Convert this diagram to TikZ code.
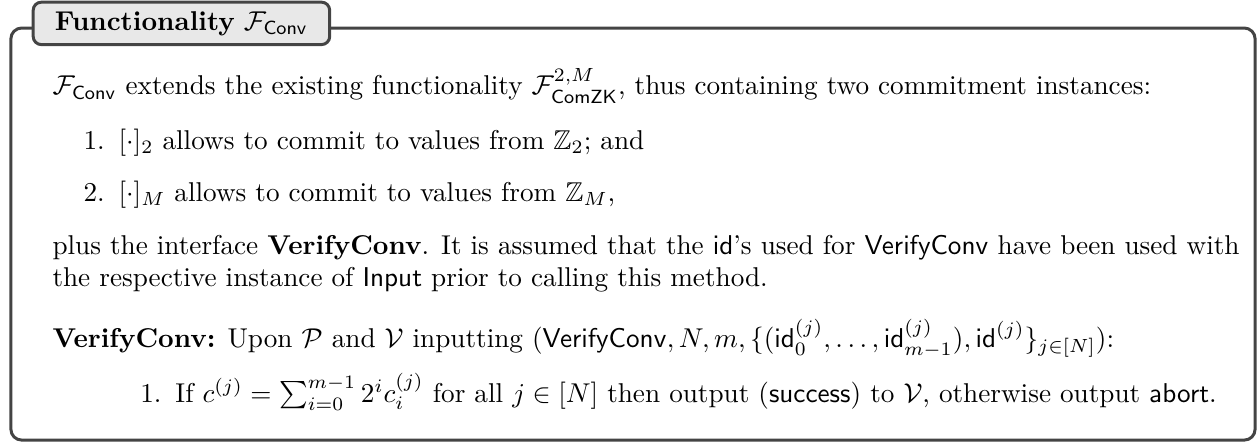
\documentclass[tikz,border=0pt]{standalone}
\usepackage{amsmath,amssymb}
\definecolor{framec}{HTML}{444444}
\definecolor{titlefill}{HTML}{E8E8E8}
\begin{document}
\begin{tikzpicture}[x=1pt,y=1pt,
  frame/.style={draw=framec,line width=1.1pt,rounded corners=4pt},
  titlebox/.style={draw=framec,fill=titlefill,line width=1.1pt,rounded corners=3pt,minimum width=109pt,minimum height=15.6pt,inner sep=0pt},
  txt/.style={anchor=base west,inner sep=0pt}]
\useasboundingbox (0,0) rectangle (463.2,-162.5);
\draw[frame] (4.0,-10.3) rectangle (461.4,-161.8);
\node[titlebox] (title) at (66.7,-8.6) {\textbf{Functionality} $\mathcal{F}_{\mathsf{Conv}}$};
\node[txt] (l1) at (19.1,-34.9) {$\mathcal{F}_{\mathsf{Conv}}$ extends the existing functionality $\mathcal{F}^{2,M}_{\mathsf{ComZK}}$, thus containing two commitment instances:};
\node[txt] (n1) at (30.5,-54.8) {1.};
\node[txt] (i1) at (43.4,-54.8) {$[\cdot]_2$ allows to commit to values from $\mathbb{Z}_2$; and};
\node[txt] (n2) at (30.5,-73.9) {2.};
\node[txt] (i2) at (43.4,-73.9) {$[\cdot]_M$ allows to commit to values from $\mathbb{Z}_M$,};
\node[txt] (l2) at (19.1,-93.4) {plus the interface \textbf{VerifyConv}. It is assumed that the $\mathsf{id}$'s used for $\mathsf{VerifyConv}$ have been used with};
\node[txt] (l3) at (19.1,-105.4) {the respective instance of $\mathsf{Input}$ prior to calling this method.};
\node[txt] (l4) at (19.1,-127.9) {\textbf{VerifyConv:} Upon $\mathcal{P}$ and $\mathcal{V}$ inputting $(\mathsf{VerifyConv}, N, m, \{(\mathsf{id}_0^{(j)},\ldots,\mathsf{id}_{m-1}^{(j)}), \mathsf{id}^{(j)}\}_{j\in[N]})$:};
\node[txt] (n3) at (51.4,-147.8) {1.};
\node[txt] (i3) at (64.3,-147.8) {If $c^{(j)}=\sum_{i=0}^{m-1}2^ic_i^{(j)}$ for all $j\in[N]$ then output $(\mathsf{success})$ to $\mathcal{V}$, otherwise output $\mathsf{abort}$.};
\end{tikzpicture}
\end{document}
